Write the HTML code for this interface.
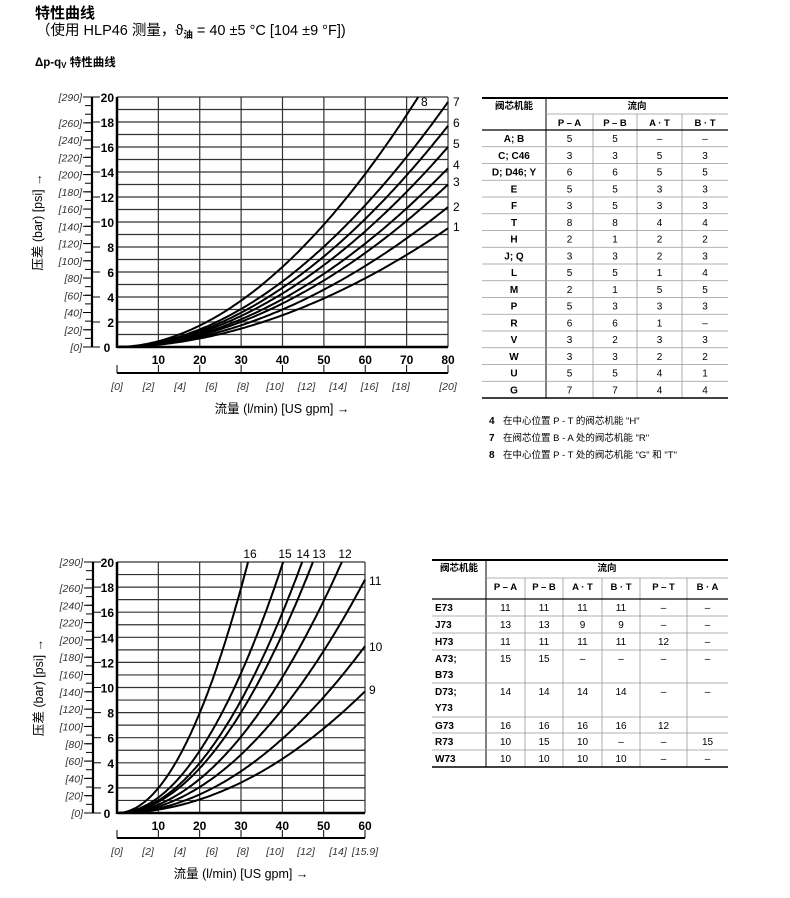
<!DOCTYPE html>
<html><head><meta charset="utf-8"><style>
body{margin:0;background:#fff;width:790px;height:898px;overflow:hidden;font-family:"Liberation Sans","Noto Sans CJK SC",sans-serif;color:#000}
svg{position:absolute;left:0;top:0}
</style></head><body>
<svg id="s" width="790" height="898" xmlns="http://www.w3.org/2000/svg" font-family="Liberation Sans, Noto Sans CJK SC, sans-serif">
<text x="35" y="18" font-size="15" font-weight="bold">特性曲线</text>
<text x="36" y="35" font-size="14.5">（使用 HLP46 测量，ϑ<tspan font-size="9.5" dy="3" font-weight="bold">油</tspan><tspan dy="-3"> = 40 ±5 °C [104 ±9 °F])</tspan></text>
<text x="35" y="66" font-size="11.5" font-weight="bold">Δp-q<tspan font-size="8" dy="2">V</tspan><tspan dy="-2"> 特性曲线</tspan></text>
<g id="g"></g>
</svg>
<script>
const NS="http://www.w3.org/2000/svg";const g=document.getElementById('g');
function el(t,a,txt){const e=document.createElementNS(NS,t);for(const k in a)e.setAttribute(k,a[k]);if(txt!==undefined)e.textContent=txt;g.appendChild(e);return e;}
function line(x1,y1,x2,y2,w,c){el('line',{x1,y1,x2,y2,stroke:c||'#000','stroke-width':w||1});}
function txt(x,y,s,o){o=o||{};el('text',Object.assign({x,y,'font-size':o.fs||10,'text-anchor':o.a||'middle'},o.attr||{}),s);}
function chart(o){
 const {x0,x1,y0,y1,qmax,ax,curves,gpm,gy,xl,title}=o;
 const px=q=>x0+(x1-x0)*q/qmax, py=p=>y0-(y0-y1)*p/20;
 for(let p=1;p<=20;p++)line(x0,py(p),x1,py(p),1.2,'#333');
 for(let q=10;q<=qmax;q+=10)line(px(q),y1,px(q),y0,1.2,'#333');
 line(x0,y1,x0,y0+1,2.5);line(x0,y0,x1,y0,2.5);
 line(ax,y1,ax,y0,2.2);
 for(let s=0;s<=290;s+=10){const y=y0-(y0-y1)*s/290;line(ax-7,y,ax,y,1);}
 const psiL=[0,20,40,60,80,100,120,140,160,180,200,220,240,260,290];
 psiL.forEach(s=>{const y=y0-(y0-y1)*s/290;line(ax-9,y,ax,y,1);txt(ax-10,y+4,'['+s+']',{fs:10.5,a:'end',attr:{'font-style':'italic',fill:'#333'}});});
 for(let p=0;p<=20;p+=2){const y=py(p);line(ax,y,ax+8,y,1);if(p>0)txt(x0-3,y+5,String(p),{fs:12,a:'end',attr:{'font-weight':'bold'}});}
 txt(x0-10,y0+5,'0',{fs:12,a:'middle',attr:{'font-weight':'bold'}});
 for(let q=10;q<=qmax;q+=10)txt(px(q),y0+17,String(q),{fs:12,attr:{'font-weight':'bold'}});
 line(x0,gy,x1,gy,2);
 gpm.forEach(([lab,x])=>{txt(x,gy+17,'['+lab+']',{fs:10.5,attr:{'font-style':'italic',fill:'#333'}});});
 line(x0,gy-8,x0,gy,1);
 for(let q=10;q<=qmax;q+=10)line(px(q),gy-8,px(q),gy,1);
 txt(xl,gy+40,'流量 (l/min) [US gpm] →',{fs:12.5});
 const ym=(y0+y1)/2;el('text',{x:0,y:0,'font-size':12.5,'text-anchor':'middle',transform:`translate(${ax-50},${ym}) rotate(-90)`},'压差 (bar) [psi] →');
 curves.forEach(c=>{let d='';const [k,n,qe]=c;
  for(let i=0;i<=120;i++){const q=0.5+(qe-0.5)*i/120;const p=Math.max(0.03,k*Math.pow(q,n));d+=(i?'L':'M')+px(q).toFixed(1)+' '+py(Math.min(p,20)).toFixed(1);}
  el('path',{d,fill:'none',stroke:'#000','stroke-width':2});});
}
const topEnd=[9.5,11.2,13.0,14.3,16.0,17.7,19.6];
let tc=topEnd.map(p=>[p/Math.pow(80,1.9),1.9,80]);
tc.push([20/Math.pow(72.8,1.9),1.9,72.8]);
chart({x0:117,x1:448,y0:347,y1:97,qmax:80,ax:92,curves:tc,gy:373,xl:282,
 gpm:[[0,117],[2,148.5],[4,180],[6,211.5],[8,243],[10,275],[12,306.5],[14,338],[16,369.5],[18,401],[20,448]]});
[['8',421,106],['7',453,106],['6',453,127],['5',453,148],['4',453,169],['3',453,186],['2',453,211],['1',453,231]].forEach(([s,x,y])=>txt(x,y,s,{fs:12,a:'start'}));
const bc=[[9.7,60],[13.3,60],[18.6,60],[20,54.4],[20,47.4],[20,44.8],[20,40.2],[20,31.7]].map(([p,q])=>[p/Math.pow(q,2),2,q]);
chart({x0:117,x1:365,y0:813,y1:562,qmax:60,ax:93,curves:bc,gy:838,xl:241,
 gpm:[[0,117],[2,148],[4,180],[6,212],[8,243],[10,275],[12,306],[14,338],['15.9',365]]});
[['16',250,558],['15',285,558],['14',303,558],['13',319,558],['12',345,558],['11',369,585],['10',369,651],['9',369,694]].forEach(([s,x,y])=>txt(x,y,s,{fs:12,a:x>360?'start':'middle'}));
function table(x,cols,top,h1,h2,rows,ends){
 const xe=cols[cols.length-1];
 line(x,top,xe,top,2);
 txt((x+cols[0])/2,top+11,'阀芯机能',{fs:9.5,attr:{'font-weight':'bold'}});
 txt((cols[0]+xe)/2,top+11,'流向',{fs:9.5,attr:{'font-weight':'bold'}});
 line(cols[0],top,cols[0],ends[ends.length-1],1);
 line(cols[0],h1,xe,h1,0.8,'#999');
 for(let i=1;i<cols.length-1;i++)line(cols[i],h1,cols[i],ends[ends.length-1],0.8,'#999');
 h2.forEach((s,i)=>txt((cols[i]+cols[i+1])/2,h1+12,s,{fs:9.5,attr:{'font-weight':'bold'}}));
 let y=ends[0];line(x,y,xe,y,1.2);
 rows.forEach((r,j)=>{const yb=ends[j+1];line(x,yb,xe,yb,j==rows.length-1?1.5:0.8,j==rows.length-1?'#000':'#999');
  r.forEach((s,i)=>{if(i==0){const parts=s.split('|');parts.forEach((p,k)=>txt(cols.length>5?x+3:(x+cols[0])/2,y+12+k*16,p,{fs:10,a:cols.length>5?'start':'middle',attr:{'font-weight':'bold'}}));}
   else txt((cols[i-1]+cols[i])/2,y+12,s,{fs:10});});
  y=yb;});
}
const tr=[['A; B','5','5','–','–'],['C;  C46','3','3','5','3'],['D;  D46;  Y','6','6','5','5'],['E','5','5','3','3'],['F','3','5','3','3'],['T','8','8','4','4'],['H','2','1','2','2'],['J;  Q','3','3','2','3'],['L','5','5','1','4'],['M','2','1','5','5'],['P','5','3','3','3'],['R','6','6','1','–'],['V','3','2','3','3'],['W','3','3','2','2'],['U','5','5','4','1'],['G','7','7','4','4']];
let e1=[130];for(let i=1;i<=16;i++)e1.push(130+i*16.75);
table(482,[546,593,637,682,728],98,114,['P – A','P – B','A · T','B · T'],tr,e1);
[['4','在中心位置 P - T 的阀芯机能 "H"',424],['7','在阀芯位置 B - A 处的阀芯机能 "R"',441],['8','在中心位置 P - T 处的阀芯机能 "G" 和 "T"',458]].forEach(([n,s,y])=>{txt(489,y,n,{fs:10,a:'start',attr:{'font-weight':'bold'}});txt(503,y,s,{fs:9.5,a:'start'});});
const br=[['E73','11','11','11','11','–','–'],['J73','13','13','9','9','–','–'],['H73','11','11','11','11','12','–'],['A73;|B73','15','15','–','–','–','–'],['D73;|Y73','14','14','14','14','–','–'],['G73','16','16','16','16','12',''],['R73','10','15','10','–','–','15'],['W73','10','10','10','10','–','–']];
table(432,[486,525,563,602,640,687,728],560,578,['P – A','P – B','A · T','B · T','P – T','B · A'],br,[599,616,633,650,683,717,733,750,767]);
</script>
</body></html>
